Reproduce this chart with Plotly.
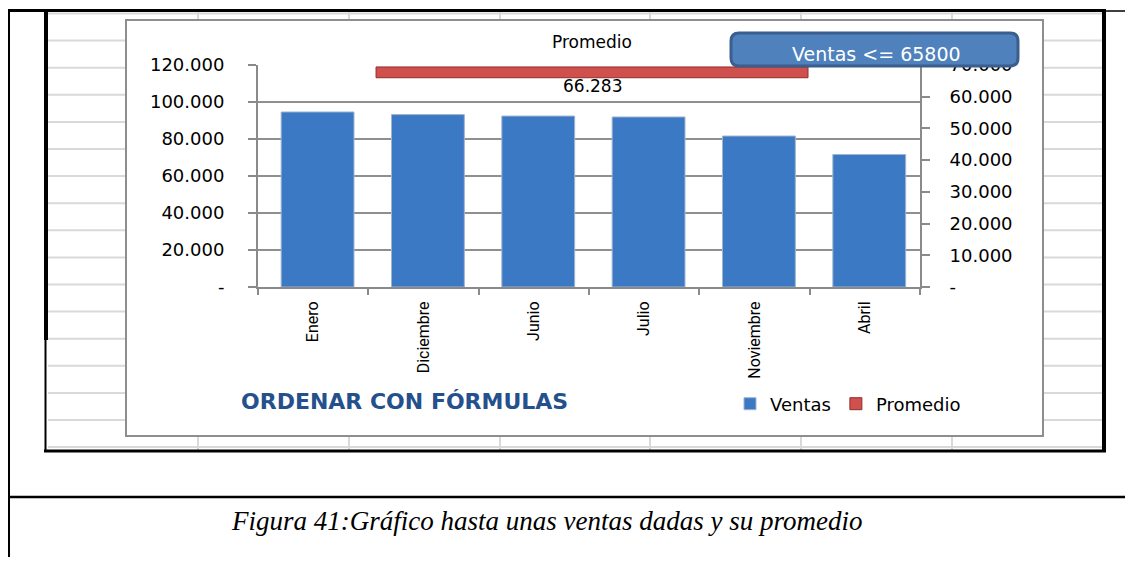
import re
import plotly.graph_objects as go

# ---------------- data ----------------
months = ["Enero", "Diciembre", "Junio", "Julio", "Noviembre", "Abril"]
ventas = [94600, 93200, 92400, 91900, 81600, 71600]
promedio_value = 66283
promedio_span = [0.57, 4.485]          # start / end of the average bar (category units)
limite_ventas = 65800

left_ticks = [0, 20000, 40000, 60000, 80000, 100000, 120000]
left_ticktext = ["-", "20.000", "40.000", "60.000", "80.000", "100.000", "120.000"]
right_ticks = [0, 10000, 20000, 30000, 40000, 50000, 60000, 70000]
right_ticktext = ["-", "10.000", "20.000", "30.000", "40.000", "50.000", "60.000", "70.000"]

# page is rendered with an 8px body margin -> figure occupies the rest of the window
OFF = 8
W, H = 1133 - 2 * OFF, 565 - 2 * OFF


def px(x):
    return (x - OFF) / W


def py(y):
    return 1 - (y - OFF) / H


def fmt(v):
    return f"{v:,.0f}".replace(",", ".")


fig = go.Figure()

fig.add_trace(go.Bar(
    x=months, y=ventas, name="Ventas", width=0.66, offset=-0.29,
    marker=dict(color="#3B79C4", line=dict(color="#9FB4CF", width=1)),
    xaxis="x", yaxis="y",
))

fig.add_trace(go.Bar(
    y=[promedio_value], x=[promedio_span[1] - promedio_span[0]], base=[promedio_span[0]],
    orientation="h", name="Promedio", width=3400, offset=-300,
    marker=dict(color="#CF504D", line=dict(color="#8E2F2C", width=1)),
    xaxis="x2", yaxis="y2",
))

axis_col = "#8A8A8A"
tick_font = dict(family="DejaVu Sans", size=18, color="#000000")

fig.update_layout(
    width=W, height=H, autosize=False,
    margin=dict(l=0, r=0, t=0, b=0, pad=0, autoexpand=False),
    paper_bgcolor="white", plot_bgcolor="rgba(0,0,0,0)",
    showlegend=True,
    legend=dict(orientation="h", x=px(730), y=py(404), xanchor="left", yanchor="middle",
                font=dict(family="DejaVu Sans", size=18, color="#000"),
                bgcolor="rgba(0,0,0,0)", itemwidth=30, traceorder="normal"),
    xaxis=dict(domain=[px(258), px(920)], anchor="y", type="category",
               showline=True, linecolor=axis_col, linewidth=2,
               ticks="outside", tickson="boundaries", ticklen=6, tickcolor=axis_col, tickwidth=2,
               tickangle=-90, tickfont=dict(family="Roboto", size=16, color="#000"),
               ticklabelstandoff=6, showgrid=False, automargin=False),
    xaxis2=dict(domain=[px(258), px(920)], anchor="y2", overlaying="x", range=[-0.5, 5.5],
                visible=False),
    yaxis=dict(domain=[py(287), py(65)], anchor="x", range=[0, 120000],
               tickvals=left_ticks, ticktext=left_ticktext, tickfont=tick_font,
               showline=True, linecolor=axis_col, linewidth=2,
               ticks="outside", ticklen=8, tickcolor=axis_col, tickwidth=2,
               showgrid=True, gridcolor="#8F8F8F", gridwidth=1.5, zeroline=False,
               ticklabelstandoff=20, automargin=False),
    yaxis2=dict(domain=[py(287), py(65)], anchor="x", overlaying="y", side="right",
                range=[0, 70000], tickvals=right_ticks, ticktext=right_ticktext,
                tickfont=tick_font, showline=True, linecolor=axis_col, linewidth=2,
                ticks="outside", ticklen=8, tickcolor=axis_col, tickwidth=2,
                showgrid=False, zeroline=False, ticklabelstandoff=16, automargin=False),
)

shapes = []
grid_col = "#D9D9D9"
# spreadsheet rows / columns
for k in range(17):
    y = 13.5 + 27.1 * k
    shapes.append(dict(type="line", xref="paper", yref="paper", layer="below",
                       x0=px(48), x1=px(1102), y0=py(y), y1=py(y),
                       line=dict(color=grid_col, width=2)))
for x in [198, 349, 500, 650, 801, 952]:
    shapes.append(dict(type="line", xref="paper", yref="paper", layer="below",
                       x0=px(x), x1=px(x), y0=py(12), y1=py(450),
                       line=dict(color=grid_col, width=2)))
# chart area
shapes.append(dict(type="rect", xref="paper", yref="paper", layer="below",
                   x0=px(126), x1=px(1043), y0=py(436), y1=py(20),
                   fillcolor="white", line=dict(color="#8E8E8E", width=2)))


def bline(x0, y0, x1, y1, w):
    shapes.append(dict(type="line", xref="paper", yref="paper", layer="above",
                       x0=px(x0), x1=px(x1), y0=py(y0), y1=py(y1),
                       line=dict(color="black", width=w)))


bline(8, 10.5, 1106, 10.5, 3)
bline(1106, 11, 1133, 11, 1.5)
bline(46, 9, 46, 340, 4)
bline(45.5, 340, 45.5, 452, 2)
bline(1104, 9, 1104, 452, 4)
bline(44, 451, 1106, 451, 3)
bline(9, 9, 9, 565, 2)
bline(8, 497, 1133, 497, 2.5)

# rounded text box
bx0, bx1, by0, by1, r = 731, 1018, 33, 66, 8
path = (f"M {bx0 + r},{by0} L {bx1 - r},{by0} Q {bx1},{by0} {bx1},{by0 + r} "
        f"L {bx1},{by1 - r} Q {bx1},{by1} {bx1 - r},{by1} L {bx0 + r},{by1} "
        f"Q {bx0},{by1} {bx0},{by1 - r} L {bx0},{by0 + r} Q {bx0},{by0} {bx0 + r},{by0} Z")


def conv(match):
    a, b = float(match.group(1)), float(match.group(2))
    return f"{px(a):.6f},{py(b):.6f}"


path_paper = re.sub(r"([\d.]+),([\d.]+)", conv, path)
shapes.append(dict(type="path", xref="paper", yref="paper", layer="above", path=path_paper,
                   fillcolor="#4F81BD", line=dict(color="#3A5F8F", width=3)))

fig.update_layout(shapes=shapes)

mid = (promedio_span[0] + promedio_span[1]) / 2
annotations = [
    dict(xref="x2", yref="y2", x=mid, y=promedio_value, text="Promedio", showarrow=False,
         yshift=35, font=dict(family="DejaVu Sans", size=17, color="#000")),
    dict(xref="x2", yref="y2", x=mid, y=promedio_value, text=fmt(promedio_value), showarrow=False,
         yshift=-9, font=dict(family="DejaVu Sans", size=17, color="#000")),
    dict(xref="paper", yref="paper", x=px(876), y=py(54), xanchor="center", yanchor="middle",
         text=f"Ventas <= {limite_ventas}",
         showarrow=False, font=dict(family="DejaVu Sans", size=19, color="white")),
    dict(xref="paper", yref="paper", x=px(404), y=py(401), xanchor="center", yanchor="middle",
         text="<b>ORDENAR CON FÓRMULAS</b>",
         showarrow=False, font=dict(family="DejaVu Sans", size=22, color="#24508C")),
    dict(xref="paper", yref="paper", x=px(546), y=py(521), xanchor="center", yanchor="middle",
         text="<i>Figura 41:Gráfico hasta unas ventas dadas y su promedio</i>",
         showarrow=False, font=dict(family="Liberation Serif", size=27, color="#000")),
]
fig.update_layout(annotations=annotations)

fig.write_html("out.html")
